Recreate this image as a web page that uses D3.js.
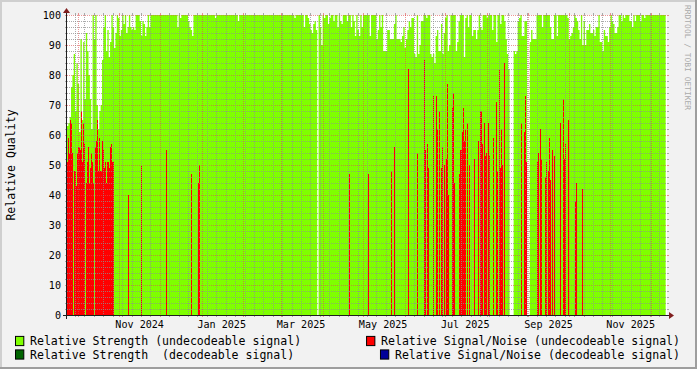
<!DOCTYPE html>
<html><head><meta charset="utf-8">
<script src="https://cdn.jsdelivr.net/npm/d3@7"></script>
<style>html,body{margin:0;padding:0;background:#F2F2F2;}svg{display:block;}text{white-space:pre;}</style>
</head><body><svg id="c" width="697" height="369"></svg>
<script>
// ---------- DATA ----------
const domainStart = "2024-09-23";
const domainEnd = "2025-12-13";
const seriesStart = "2024-09-23";      // first sample of every series
// daily Relative Strength (undecodeable signal); null = no data
const strengthUndecodeable = [
 63,64,66,76,80,87,68,84,77,61,
 92,65,91,72,94,88,80,72,62,100,
 92,100,70,62,68,70,85,96,100,88,
 95,86,91,100,96,89,94,100,99,93,
 95,100,97,100,94,96,100,96,95,96,
 95,100,100,100,98,93,98,97,93,96,
 100,96,100,100,100,100,100,100,100,100,
 100,100,100,100,100,100,100,100,100,100,
 100,100,96,100,99,100,100,100,100,100,
 98,96,95,93,100,100,100,100,100,100,
 100,100,100,100,100,100,100,100,100,100,
 99,100,100,100,100,100,100,100,100,100,
 100,100,100,100,100,100,100,98,100,100,
 100,100,100,100,100,100,100,100,100,100,
 100,100,100,100,100,100,100,100,100,100,
 100,100,100,100,100,100,100,100,100,100,
 100,100,100,100,100,100,100,100,100,99,
 100,100,100,100,100,100,96,100,100,99,
 97,95,94,97,98,95,null,100,96,90,
 100,99,100,100,97,99,100,100,98,100,
 100,96,100,98,97,100,100,100,98,100,
 100,96,100,98,93,100,95,93,100,96,
 100,100,100,100,100,93,100,100,100,100,
 92,95,100,96,100,88,88,88,95,95,
 92,92,92,97,100,92,92,92,91,93,
 96,89,92,95,98,96,99,99,87,86,
 100,87,90,98,98,100,100,99,100,100,
 87,86,87,84,93,95,88,88,97,87,
 94,99,100,88,90,100,100,100,100,88,
 91,98,100,100,100,86,99,100,96,100,
 100,93,95,95,92,95,100,96,95,100,
 100,100,99,100,100,100,95,100,100,91,
 100,100,97,100,100,98,92,87,82,null,
 null,null,88,87,88,98,99,100,93,93,
 98,98,null,null,91,95,92,92,92,100,
 100,100,100,96,100,100,100,100,100,96,
 92,92,100,100,93,100,100,100,100,100,
 100,100,99,92,93,94,96,100,99,98,
 95,92,100,90,98,90,95,95,97,94,
 94,95,93,96,96,100,91,91,88,95,
 93,93,91,96,100,98,97,94,94,96,
 100,100,98,100,99,100,100,100,98,98,
 96,100,98,100,100,100,98,100,100,99,
 100,100,100,100,100,100,100,100,100,100,
 100,100,100,100,100
];
// sparse series sampled every 18 h: [sample index, value]
const sparseStepHours = 18;
// Relative Signal/Noise (undecodeable signal)
const snrUndecodeable = [
 [0,51],[1,59],[2,54],[3,65],[4,64],[5,54],[7,48],[8,48],[9,43],[10,54],
 [11,56],[12,56],[13,55],[14,68],[15,51],[16,64],[17,57],[19,44],[20,51],[21,56],
 [22,44],[23,49],[24,54],[25,51],[26,44],[28,56],[29,58],[30,65],[31,48],[32,59],
 [33,48],[34,48],[35,58],[36,55],[37,49],[38,51],[39,44],[40,51],[41,51],[42,49],
 [43,56],[44,57],[45,51],[46,51],
 [60,40],[73,50],[98,55],[123,47],[130,44],[131,50],[279,47],[298,47],[321,48],
 [324,56],[338,82],[347,54],
 [354,85],[355,55],[357,57],[358,49],[363,73],[366,73],[367,62],[369,68],[371,49],
 [372,56],[374,50],[376,52],[377,77],[378,40],[382,69],[383,74],[384,44],[389,47],
 [390,55],[391,61],[392,69],[393,58],[394,62],[396,64],[398,50],[403,52],[407,58],
 [409,68],[410,68],[411,57],[413,64],[414,53],[415,54],[417,64],[418,53],[422,59],
 [425,71],[426,48],[428,82],[429,49],[430,62],[431,50],[433,84],
 [450,64],[453,61],[454,73],[455,51],[466,51],[467,54],[469,62],[470,52],[474,46],
 [475,51],[477,48],[478,59],[479,45],[481,55],[483,53],[489,64],[492,72],[493,52],
 [494,57],[497,65],[503,38],[504,44],[510,42]
];
// Relative Strength (decodeable signal)
const strengthDecodeable = [];
// Relative Signal/Noise (decodeable signal)
const snrDecodeable = [];
const yTickValues = [0,10,20,30,40,50,60,70,80,90,100];
const legendLabels = [
 "Relative Strength (undecodeable signal)",
 "Relative Signal/Noise (undecodeable signal)",
 "Relative Strength  (decodeable signal)",
 "Relative Signal/Noise (decodeable signal)"
];
const seriesColors = ["#7FFF00","#FF0000","#006400","#000099"];
const yTitle = "Relative Quality";
const watermark = "RRDTOOL / TOBI OETIKER";

// ---------- DRAW ----------
const W=697,H=369,X0=67,X1=667,Y0=315,Y1=15;
const parse=d3.timeParse("%Y-%m-%d");
const svg=d3.select("#c");
const x=d3.scaleTime().domain([parse(domainStart),parse(domainEnd)]).range([X0,X1]);
const y=d3.scaleLinear().domain([0,100]).range([Y0,Y1]);
const mono="'DejaVu Sans Mono', monospace";

// background + 3D frame
svg.append("rect").attr("width",W).attr("height",H).attr("fill","#F2F2F2");
svg.append("rect").attr("x",0).attr("y",0).attr("width",W).attr("height",2).attr("fill","#CFCFCF");
svg.append("rect").attr("x",0).attr("y",0).attr("width",2).attr("height",H).attr("fill","#CFCFCF");
svg.append("rect").attr("x",0).attr("y",H-2).attr("width",W).attr("height",2).attr("fill","#9E9E9E");
svg.append("rect").attr("x",W-2).attr("y",0).attr("width",2).attr("height",H).attr("fill","#9E9E9E");
// canvas
svg.append("rect").attr("x",X0).attr("y",Y1).attr("width",X1-X0).attr("height",Y0-Y1).attr("fill","#FFFFFF");

const start=parse(seriesStart);
// green: step area over daily values
const pts=[];
strengthUndecodeable.forEach((v,i)=>{
  const d=d3.timeDay.offset(start,i), e=d3.timeDay.offset(start,i+1);
  if(v==null) pts.push({t:d,v:null});
  else {pts.push({t:d,v:v});pts.push({t:e,v:v});}
});
const area=d3.area().defined(p=>p.v!=null).x(p=>x(p.t)).y0(Y0).y1(p=>y(p.v));
svg.append("path").attr("d",area(pts)).attr("fill",seriesColors[0]);

// sparse series: one bar per 18 h sample
[snrUndecodeable,strengthDecodeable,snrDecodeable].forEach((list,k)=>{
  svg.append("g").attr("shape-rendering","crispEdges").selectAll("rect").data(list).join("rect")
    .attr("x",d=>x(d3.timeHour.offset(start,d[0]*sparseStepHours)))
    .attr("width",d=>x(d3.timeHour.offset(start,(d[0]+1)*sparseStepHours))-x(d3.timeHour.offset(start,d[0]*sparseStepHours)))
    .attr("y",d=>y(d[1]))
    .attr("height",d=>Y0-y(d[1]))
    .attr("fill",seriesColors[k+1]);
});

// grid (drawn over data)
const gridC="rgba(143,143,143,0.75)", mgridC="rgba(222,79,79,0.6)";
const gGrid=svg.append("g").attr("shape-rendering","crispEdges");
d3.range(2,101,2).forEach(v=>{
  const major=v%10===0, c=major?mgridC:gridC, yy=Math.round(y(v))+0.5;
  gGrid.append("line").attr("x1",X0).attr("x2",X1).attr("y1",yy).attr("y2",yy).attr("stroke",c).attr("stroke-dasharray","1,1");
  gGrid.append("line").attr("x1",X0-2).attr("x2",X0).attr("y1",yy).attr("y2",yy).attr("stroke",c);
  gGrid.append("line").attr("x1",X1).attr("x2",X1+2).attr("y1",yy).attr("y2",yy).attr("stroke",c);
});
const monthStarts=d3.timeMonth.range(x.domain()[0],x.domain()[1]);
const mset=new Set(monthStarts.map(d=>+d));
const weeks=d3.timeSunday.range(x.domain()[0],x.domain()[1]).filter(d=>!mset.has(+d));
function vline(d,c){
  const xx=Math.round(x(d))+0.5;
  gGrid.append("line").attr("x1",xx).attr("x2",xx).attr("y1",Y1).attr("y2",Y0).attr("stroke",c).attr("stroke-dasharray","1,1");
  gGrid.append("line").attr("x1",xx).attr("x2",xx).attr("y1",Y1-2).attr("y2",Y1).attr("stroke",c);
  gGrid.append("line").attr("x1",xx).attr("x2",xx).attr("y1",Y0).attr("y2",Y0+2).attr("stroke",c);
}
weeks.forEach(d=>vline(d,gridC));
monthStarts.forEach(d=>vline(d,mgridC));

// axes
const axC="#1F1F1F", arC="#801F1F";
svg.append("line").attr("x1",X0-4).attr("x2",X1+4).attr("y1",Y0+0.5).attr("y2",Y0+0.5).attr("stroke",axC).attr("shape-rendering","crispEdges");
svg.append("line").attr("x1",X0-0.5).attr("x2",X0-0.5).attr("y1",Y0+4).attr("y2",Y1-4).attr("stroke",axC).attr("shape-rendering","crispEdges");
svg.append("path").attr("d",`M${X1+2},${Y0-3}L${X1+2},${Y0+4}L${X1+7},${Y0+0.5}Z`).attr("fill",arC);
svg.append("path").attr("d",`M${X0-4},${Y1-2}L${X0+3},${Y1-2}L${X0-0.5},${Y1-7}Z`).attr("fill",arC);

// y tick labels
svg.append("g").selectAll("text").data(yTickValues).join("text")
  .attr("x",61).attr("y",d=>y(d)).attr("text-anchor","end").attr("dominant-baseline","central")
  .attr("font-family",mono).attr("font-size",10.1).attr("fill","#000").text(d=>d);
// x labels (every 2 months, centred half a month after the month start)
const labelMonths=d3.timeMonth.every(2).range(x.domain()[0],x.domain()[1]);
const xf=d3.timeFormat("%b %Y");
svg.append("g").selectAll("text").data(labelMonths).join("text")
  .attr("x",d=>x(d3.timeDay.offset(d,15))).attr("y",324.5).attr("text-anchor","middle").attr("dominant-baseline","central")
  .attr("font-family",mono).attr("font-size",10.1).attr("fill","#000").text(d=>xf(d));

// y title
svg.append("text").attr("transform",`translate(11,${(Y0+Y1)/2}) rotate(-90)`).attr("text-anchor","middle").attr("dominant-baseline","central")
  .attr("font-family",mono).attr("font-size",11.55).attr("fill","#000").text(yTitle);
// watermark
svg.append("text").attr("transform","translate(684.5,5) rotate(90)").attr("text-anchor","start")
  .attr("font-family",mono).attr("font-size",7.94).attr("fill","#AAAAAA").text(watermark);

// legend
const LF=11.55, boxW=8.3, boxH=9.2;
const rowsY=[341,354.5];
legendLabels.forEach((lab,k)=>{
  const row=Math.floor(k/2), right=k%2===1, cy=rowsY[row];
  const t=svg.append("text").attr("y",cy).attr("dominant-baseline","central")
    .attr("font-family",mono).attr("font-size",LF).attr("fill","#000").text(lab);
  let tx;
  if(right){ t.attr("x",680).attr("text-anchor","end"); tx=t.node().getBBox().x; }
  else { tx=30; t.attr("x",tx); }
  svg.append("rect").attr("x",tx-15+0.5).attr("y",cy-boxH/2).attr("width",boxW).attr("height",boxH)
    .attr("fill",seriesColors[k]).attr("stroke","#000").attr("stroke-width",1);
});
</script></body></html>
